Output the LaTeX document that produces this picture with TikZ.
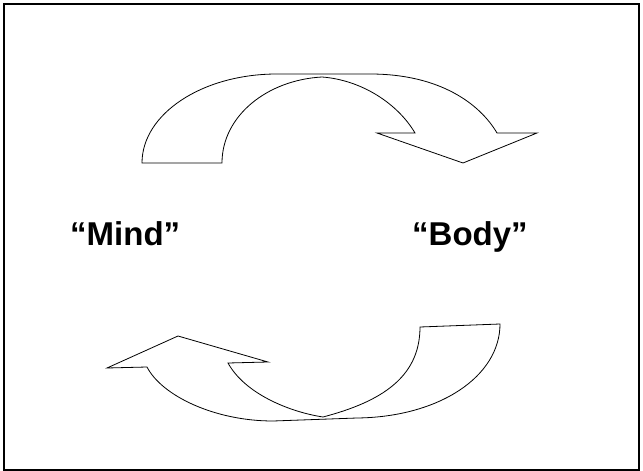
\documentclass[tikz,border=0pt]{standalone}
\usepackage{fontspec}
\setmainfont{Liberation Sans}
\usepackage{tikz}
\usepackage{xcolor}
\definecolor{framec}{HTML}{000000}
\definecolor{arrowc}{HTML}{000000}
\tikzset{
  frame/.style={draw=framec, line width=2pt},
  curlyarrow/.style={draw=arrowc, fill=white, line width=0.8pt, line join=miter},
  word/.style={font=\fontsize{33}{36}\selectfont\bfseries, inner sep=0pt, anchor=base west},
}
\begin{document}
\begin{tikzpicture}[x=1pt,y=-1pt]
\useasboundingbox (0,0) rectangle (643,471);
\draw[frame] (4,4) rectangle (639,470);
% top arrow, mind to body
\draw[curlyarrow] (142,163) .. controls (142,114) and (202,74) .. (277,74) -- (370,74) .. controls (440,74) and (480,104) .. (497,133) -- (537,133) -- (463,163) -- (377,133) -- (415,133) .. controls (398,104) and (362,80) .. (322,77) .. controls (267,80) and (222,116) .. (222,163) -- cycle;
% bottom arrow, body to mind
\draw[curlyarrow] (500,324) .. controls (500,376) and (440,417) .. (357,418) -- (273,421) .. controls (215,421) and (162,396) .. (147,367) -- (107,368) -- (178,336) -- (268,362) -- (228,363) .. controls (245,394) and (290,412) .. (323,417) .. controls (380,402) and (420,378) .. (420,327) -- cycle;
\node[word] (mind) at (70,245) {“Mind”};
\node[word] (body) at (412,245) {“Body”};
\end{tikzpicture}
\end{document}
